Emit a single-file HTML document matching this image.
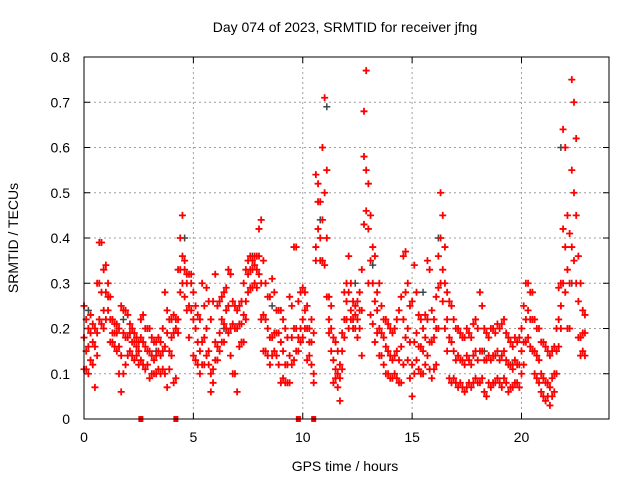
<!DOCTYPE html>
<html><head><meta charset="utf-8"><style>
body{margin:0;background:#fff;}
svg{display:block;font-family:"Liberation Sans",sans-serif;}
</style></head><body>
<svg id="chart" width="640" height="480" viewBox="0 0 640 480">
<text x="345" y="32" font-size="14" text-anchor="middle" fill="#000">Day 074 of 2023, SRMTID for receiver jfng</text>
<text transform="translate(18,238) rotate(-90)" font-size="14" text-anchor="middle" fill="#000">SRMTID / TECUs</text>
<text x="345" y="471" font-size="14" text-anchor="middle" fill="#000">GPS time / hours</text>
<g id="grid"></g>
<g id="ticks"></g>
<g id="marks"></g>
<rect x="84" y="57" width="525" height="362" fill="none" stroke="#000" stroke-width="1"/>
</svg>
<script>
const xTicks=[0,5,10,15,20];
const yTicks=[0,0.1,0.2,0.3,0.4,0.5,0.6,0.7,0.8];
const yTickLabels=["0","0.1","0.2","0.3","0.4","0.5","0.6","0.7","0.8"];
const hiVals=[.25,.22,.20,.23,.21,.20,.30,.39,.39,.33,.34,.30,.27,.22,.21,.21,.20,.25,.24,.24,.23,.21,.20,.19,.18,.17,.22,.23,.20,.20,.20,.18,.17,.17,.18,.17,.20,.28,.24,.22,.22,.23,.22,.33,.40,.45,.35,.32,.32,.32,.28,.25,.23,.22,.30,.25,.29,.26,.22,.26,.32,.25,.26,.27,.28,.29,.33,.32,.26,.25,.24,.25,.26,.30,.33,.35,.36,.35,.36,.36,.42,.44,.35,.30,.27,.27,.31,.28,.24,.24,.24,.22,.20,.18,.27,.25,.38,.38,.26,.28,.29,.28,.25,.20,.22,.19,.54,.52,.48,.60,.71,.55,.27,.25,.18,.17,.15,.12,.19,.28,.30,.36,.30,.26,.25,.26,.28,.33,.68,.77,.52,.45,.38,.36,.28,.30,.25,.22,.22,.21,.20,.19,.20,.22,.24,.27,.36,.37,.30,.25,.26,.34,.28,.23,.22,.20,.23,.35,.33,.24,.22,.27,.36,.50,.45,.38,.28,.26,.25,.22,.20,.20,.19,.18,.18,.20,.19,.18,.21,.22,.20,.28,.25,.20,.19,.18,.20,.20,.19,.21,.20,.21,.22,.19,.18,.17,.16,.18,.17,.18,.20,.25,.30,.30,.28,.28,.22,.20,.20,.17,.17,.16,.15,.14,.15,.16,.20,.29,.30,.64,.60,.45,.41,.75,.70,.62,.36,.30,.24,.23];
const midVals=[.18,.15,.16,.19,.17,.16,.19,.30,.28,.24,.28,.27,.22,.19,.19,.19,.16,.14,.19,.18,.18,.19,.17,.17,.16,.15,.18,.17,.16,.15,.15,.14,.13,.14,.15,.14,.15,.16,.19,.15,.18,.19,.20,.22,.33,.36,.33,.30,.25,.30,.22,.20,.17,.15,.17,.18,.20,.15,.10,.11,.17,.16,.19,.22,.21,.24,.25,.20,.21,.20,.20,.21,.21,.23,.26,.32,.33,.33,.34,.33,.36,.30,.23,.22,.20,.18,.18,.19,.19,.19,.17,.15,.12,.12,.14,.18,.20,.20,.18,.20,.22,.24,.20,.17,.17,.10,.38,.48,.40,.44,.50,.40,.22,.20,.13,.11,.10,.09,.15,.22,.26,.28,.24,.22,.23,.22,.24,.24,.58,.55,.42,.35,.30,.26,.24,.20,.19,.18,.16,.15,.14,.13,.14,.15,.13,.16,.22,.28,.20,.17,.12,.17,.19,.16,.16,.15,.18,.22,.17,.17,.18,.20,.29,.40,.33,.30,.22,.18,.17,.15,.13,.14,.13,.13,.12,.14,.13,.12,.14,.15,.13,.15,.15,.13,.13,.14,.13,.14,.14,.15,.13,.14,.15,.13,.12,.12,.11,.13,.12,.12,.15,.17,.22,.24,.22,.22,.15,.14,.13,.10,.09,.08,.08,.07,.09,.10,.15,.22,.25,.42,.38,.33,.30,.55,.50,.45,.26,.18,.19,.19];
const loVals=[.11,.11,.10,.13,.12,.07,.14,.22,.21,.20,.22,.24,.17,.17,.16,.15,.10,.06,.10,.12,.14,.15,.14,.13,.14,.12,.13,.12,.11,.12,.09,.10,.10,.10,.11,.10,.11,.10,.07,.11,.14,.08,.09,.19,.28,.30,.27,.24,.18,.24,.14,.13,.12,.10,.12,.12,.14,.12,.06,.08,.13,.13,.15,.17,.17,.20,.19,.14,.10,.10,.06,.16,.17,.17,.22,.28,.29,.29,.30,.29,.32,.22,.15,.15,.14,.12,.14,.15,.14,.12,.08,.09,.08,.08,.08,.12,.13,.15,.15,.17,.18,.20,.13,.14,.12,.08,.35,.42,.35,.35,.34,.27,.19,.15,.08,.09,.07,.04,.11,.18,.22,.20,.22,.20,.20,.18,.20,.14,.43,.46,.30,.23,.21,.17,.19,.14,.14,.12,.10,.10,.09,.09,.10,.09,.08,.08,.12,.18,.13,.09,.05,.10,.13,.11,.10,.10,.12,.14,.11,.09,.11,.12,.20,.30,.26,.20,.15,.09,.08,.09,.08,.07,.08,.07,.06,.07,.08,.07,.08,.09,.08,.08,.09,.06,.05,.08,.07,.08,.08,.09,.08,.07,.09,.08,.06,.07,.07,.08,.08,.07,.10,.12,.17,.18,.16,.15,.10,.09,.08,.06,.05,.04,.05,.03,.05,.06,.10,.16,.20,.30,.28,.20,.20,.38,.35,.30,.18,.14,.15,.14];
const darkTimes=[0.2,0.9,1.8,3.3,4.6,6.4,7.7,8.6,10.8,11.1,12.4,13.2,15.5,16.2,18.3,19.6,21.8,22.3];
const darkVals=[0.24,0.33,0.22,0.15,0.40,0.20,0.36,0.25,0.44,0.69,0.30,0.34,0.28,0.40,0.15,0.12,0.60,0.30];
const flagTimes=[2.6,4.2,9.8,10.5];
const X0=84,X1=609,Y0=419,Y1=57,XMAX=24,YMAX=0.8;
const sx=t=>X0+t/XMAX*(X1-X0);
const sy=v=>Y0-v/YMAX*(Y0-Y1);
const NS="http://www.w3.org/2000/svg";
const grid=document.getElementById('grid'),ticks=document.getElementById('ticks'),marks=document.getElementById('marks');
function mk(tag,attrs,parent){const e=document.createElementNS(NS,tag);for(const k in attrs)e.setAttribute(k,attrs[k]);parent.appendChild(e);return e;}
xTicks.forEach(t=>{
  const x=sx(t);
  if(t>0){const g=mk('line',{x1:x,y1:Y0,x2:x,y2:Y1,stroke:'#a0a0a0','stroke-dasharray':'2,3'},grid);
  
  }
  const l=mk('text',{x:x,y:Y0+23,'font-size':14,'text-anchor':'middle',fill:'#000'},ticks);
  l.textContent=String(t);
  
  
  mk('path',{d:`M${x},${Y0}v-6M${x},${Y1}v6`,stroke:'#000'},ticks);
});
yTicks.forEach((v,i)=>{
  const y=sy(v);
  if(v>0&&v<YMAX){const g=mk('line',{x1:X0,y1:y,x2:X1,y2:y,stroke:'#a0a0a0','stroke-dasharray':'2,3'},grid);
  
  }
  const l=mk('text',{x:70,y:y+5,'font-size':14,'text-anchor':'end',fill:'#000'},ticks);
  l.textContent=yTickLabels[i];
  
  
  mk('path',{d:`M${X0},${y}h6M${X1},${y}h-6`,stroke:'#000'},ticks);
});
function crosses(ts,vs){let d='';for(let i=0;i<vs.length;i++){const x=sx(ts(i)),y=sy(vs[i]);d+=`M${x-3.5},${y}h7M${x},${y-3.5}v7`;}return d;}
const tIdx=i=>i/10;
const dp=mk('path',{d:crosses(i=>darkTimes[i],darkVals),stroke:'#3a4a4a','stroke-width':1.5,fill:'none'},marks);


[hiVals,midVals,loVals].forEach(arr=>{
  const p=mk('path',{d:crosses(tIdx,arr),stroke:'#ff0000','stroke-width':1.8,fill:'none'},marks);
  
  
});
flagTimes.forEach(t=>{
  const r=mk('rect',{x:sx(t)-2.5,y:Y0-3,width:5,height:6,fill:'#ff0000'},marks);
  
  
});
</script>
</body></html>
